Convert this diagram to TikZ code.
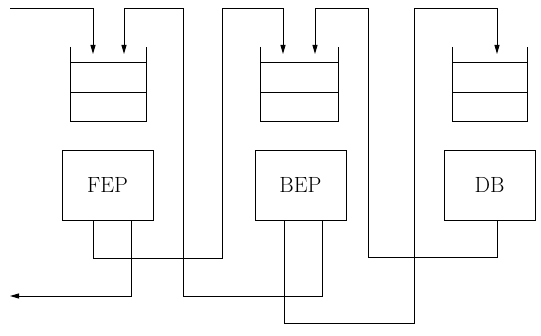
\documentclass[tikz,border=0pt]{standalone}
\usepackage{tikz}
\usetikzlibrary{calc, arrows.meta}

\begin{document}
\begin{tikzpicture}[x=1pt, y=-1pt, line width=0.9pt, >={Triangle[length=9pt, width=5pt]},
  box/.style={draw, minimum width=91pt, minimum height=70pt, font=\fontsize{22}{26}\selectfont}]
\useasboundingbox (0,0) rectangle (541,336);

%the queues
\draw (70,47) -- (70,121) -- (146,121) -- (146,47);
\draw (70,62) -- (146,62);
\draw (70,92) -- (146,92);

\draw (260,47) -- (260,121) -- (338,121) -- (338,47);
\draw (260,62) -- (338,62);
\draw (260,92) -- (338,92);

\draw (452,47) -- (452,121) -- (527,121) -- (527,47);
\draw (452,62) -- (527,62);
\draw (452,92) -- (527,92);

%the processors
\node [box] (fep) at (107.5,185) {FEP};
\node [box] (bep) at (300.5,185) {BEP};
\node [box] (db) at (489.5,185) {DB};

%the ports
\coordinate (q1a) at (93,54);
\coordinate (q1b) at (124,54);
\coordinate (q2a) at (283,54);
\coordinate (q2b) at (315,54);
\coordinate (q3a) at (497,54);
\coordinate (fep1) at ($(fep.south)+(-14.5,0)$);
\coordinate (fep2) at ($(fep.south)+(23.5,0)$);
\coordinate (bep1) at ($(bep.south)+(-16.5,0)$);
\coordinate (bep2) at ($(bep.south)+(21.5,0)$);
\coordinate (db1) at ($(db.south)+(7.5,0)$);
\coordinate (in) at (10,8);
\coordinate (out) at (10,296);

%the messages
\draw [->] (in) -| (q1a);
\draw [->] (fep1) -- (93,258) -| (222,8) -| (q2a);
\draw [->] (fep2) |- (out);
\draw [->] (bep2) -- (322,296) -| (183,8) -| (q1b);
\draw [->] (bep1) -- (284,323) -| (414,8) -| (q3a);
\draw [->] (db1) -- (497,257) -| (368,8) -| (q2b);
\end{tikzpicture}
\end{document}
